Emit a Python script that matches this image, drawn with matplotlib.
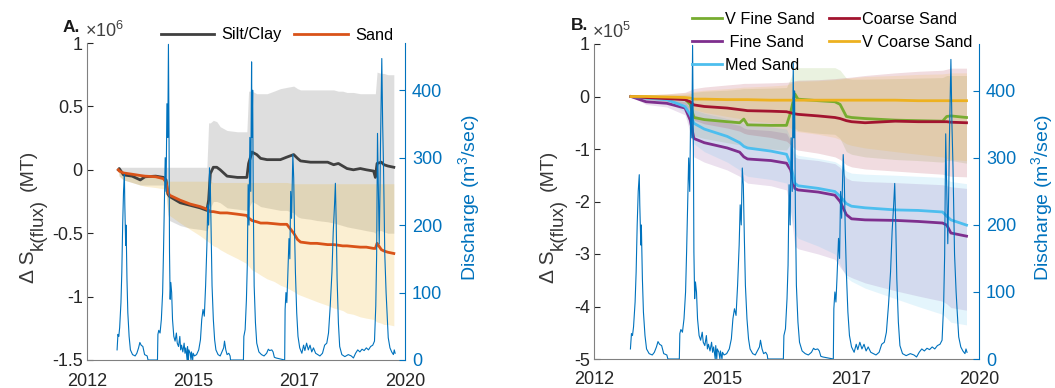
import numpy as np
import matplotlib
matplotlib.use("Agg")
import matplotlib.pyplot as plt
from matplotlib.ticker import FixedLocator, FuncFormatter

plt.rcParams["font.family"] = ["Liberation Sans", "DejaVu Sans"]
plt.rcParams["mathtext.fontset"] = "custom"
plt.rcParams["mathtext.rm"] = "Liberation Sans"
plt.rcParams["mathtext.it"] = "Liberation Sans:italic"
plt.rcParams["axes.unicode_minus"] = False

# ---------------------------------------------------------------- discharge
q_year = [
    2013.30, 2013.32, 2013.34, 2013.36, 2013.39, 2013.41, 2013.43, 2013.45, 2013.47, 2013.48,
    2013.50, 2013.51, 2013.53, 2013.55, 2013.58, 2013.61, 2013.66, 2013.72, 2013.76, 2013.80,
    2013.83, 2013.86, 2013.90, 2013.94, 2014.00, 2014.02, 2014.24, 2014.25, 2014.27, 2014.30,
    2014.33, 2014.36, 2014.38, 2014.40, 2014.42, 2014.44, 2014.46, 2014.48, 2014.495, 2014.51,
    2014.52, 2014.535, 2014.55, 2014.57, 2014.59, 2014.62, 2014.65, 2014.68, 2014.70, 2014.73,
    2014.76, 2014.78, 2014.80, 2014.83, 2014.86, 2014.88, 2014.90, 2014.93, 2014.94, 2014.96,
    2014.97, 2015.00, 2015.02, 2015.03, 2015.06, 2015.07, 2015.10, 2015.15, 2015.20, 2015.24,
    2015.27, 2015.30, 2015.33, 2015.36, 2015.39, 2015.41, 2015.43, 2015.45, 2015.47, 2015.49,
    2015.51, 2015.54, 2015.57, 2015.60, 2015.65, 2015.70, 2015.74, 2015.78, 2015.80, 2015.83,
    2015.86, 2015.90, 2015.93, 2015.94, 2016.24, 2016.25, 2016.28, 2016.31, 2016.33, 2016.35,
    2016.37, 2016.39, 2016.41, 2016.43, 2016.44, 2016.455, 2016.47, 2016.49, 2016.52, 2016.55,
    2016.60, 2016.66, 2016.72, 2016.78, 2016.82, 2016.85, 2016.90, 2016.93, 2016.96, 2017.00,
    2017.19, 2017.20, 2017.21, 2017.23, 2017.25, 2017.27, 2017.30, 2017.32, 2017.34, 2017.36,
    2017.39, 2017.41, 2017.43, 2017.45, 2017.48, 2017.51, 2017.55, 2017.60, 2017.64, 2017.67,
    2017.71, 2017.75, 2017.79, 2017.83, 2017.87, 2017.92, 2017.97, 2018.02, 2018.08, 2018.13,
    2018.18, 2018.22, 2018.26, 2018.30, 2018.33, 2018.36, 2018.38, 2018.40, 2018.42, 2018.45,
    2018.48, 2018.53, 2018.60, 2018.68, 2018.75, 2018.80, 2018.85, 2018.90, 2018.95, 2019.00,
    2019.05, 2019.10, 2019.15, 2019.20, 2019.25, 2019.29, 2019.32, 2019.34, 2019.36, 2019.38,
    2019.40, 2019.42, 2019.43, 2019.45, 2019.46, 2019.48, 2019.50, 2019.53, 2019.56, 2019.58,
    2019.61, 2019.65, 2019.69, 2019.73, 2019.75, 2019.77,
]
q_cms = [
    15, 38, 35, 48, 85, 130, 200, 250, 275, 230,
    170, 200, 120, 70, 35, 15, 8, 6, 10, 18,
    26, 22, 20, 8, 6, 0, 0, 38, 44, 40,
    60, 100, 160, 230, 300, 250, 380, 330, 468, 320,
    160, 90, 115, 100, 60, 35, 28, 40, 25, 20,
    35, 15, 22, 12, 25, 10, 18, 0, 20, 0,
    15, 10, 0, 12, 0, 10, 6, 8, 15, 30,
    60, 75, 65, 110, 170, 230, 200, 285, 260, 180,
    110, 60, 30, 15, 8, 6, 12, 18, 28, 15,
    8, 10, 6, 0, 0, 35, 45, 90, 140, 260,
    200, 330, 250, 442, 330, 400, 230, 110, 55, 25,
    12, 8, 6, 10, 16, 14, 15, 12, 4, 3,
    0, 0, 75, 100, 85, 120, 180, 150, 250, 210,
    305, 270, 190, 130, 70, 35, 18, 10, 22, 14,
    25, 15, 22, 12, 18, 10, 8, 6, 10, 22,
    25, 40, 80, 130, 190, 230, 262, 200, 120, 55,
    20, 8, 5, 8, 6, 3, 10, 15, 12, 16,
    14, 18, 15, 20, 22, 28, 80, 156, 336, 250,
    172, 260, 321, 400, 447, 350, 287, 156, 100, 72,
    33, 18, 12, 8, 15, 10,
]

# ---------------------------------------------------------------- panel A (x1e6 MT)
a_year = [
    2013.33, 2013.35, 2013.45, 2013.65, 2013.84, 2013.95, 2014.20, 2014.38, 2014.44, 2014.48,
    2014.52, 2014.77, 2015.00, 2015.23, 2015.39, 2015.43, 2015.47, 2015.54, 2015.62, 2015.70,
    2015.86, 2016.10, 2016.32, 2016.36, 2016.44, 2016.55, 2016.64, 2016.79, 2016.95, 2017.10,
    2017.25, 2017.41, 2017.50, 2017.57, 2017.80, 2017.95, 2018.20, 2018.34, 2018.45, 2018.55,
    2018.65, 2018.80, 2018.96, 2019.10, 2019.27, 2019.31, 2019.35, 2019.45, 2019.51, 2019.60,
    2019.74,
]
silt_clay = [
    0.00, 0.01, -0.04, -0.05, -0.08, -0.055, -0.05, -0.06, -0.08, -0.19,
    -0.21, -0.26, -0.28, -0.30, -0.32, -0.24, -0.03, 0.02, 0.02, 0.00,
    -0.05, -0.06, -0.06, 0.05, 0.14, 0.12, 0.09, 0.08, 0.08, 0.08,
    0.10, 0.12, 0.09, 0.07, 0.06, 0.06, 0.06, 0.04, 0.05, 0.03,
    0.01, 0.00, 0.01, 0.00, -0.01, -0.06, 0.05, 0.06, 0.04, 0.03,
    0.02,
]
silt_hi = [
    0.00, 0.02, 0.02, 0.02, 0.02, 0.02, 0.02, 0.02, 0.02, 0.02,
    0.02, 0.02, 0.02, 0.02, 0.02, 0.37, 0.37, 0.39, 0.38, 0.34,
    0.31, 0.30, 0.30, 0.62, 0.62, 0.60, 0.60, 0.60, 0.62, 0.64,
    0.65, 0.66, 0.64, 0.63, 0.63, 0.63, 0.63, 0.63, 0.62, 0.62,
    0.61, 0.61, 0.60, 0.60, 0.60, 0.60, 0.77, 0.76, 0.76, 0.75,
    0.75,
]
silt_lo = [
    0.00, -0.05, -0.08, -0.10, -0.12, -0.12, -0.12, -0.12, -0.15, -0.35,
    -0.40, -0.44, -0.46, -0.47, -0.48, -0.45, -0.30, -0.25, -0.25, -0.26,
    -0.30, -0.31, -0.32, -0.30, -0.25, -0.27, -0.29, -0.30, -0.31, -0.32,
    -0.32, -0.34, -0.37, -0.38, -0.39, -0.40, -0.41, -0.42, -0.43, -0.44,
    -0.45, -0.46, -0.47, -0.48, -0.49, -0.50, -0.48, -0.48, -0.49, -0.50,
    -0.50,
]
sand = [
    0.00, -0.01, -0.025, -0.035, -0.045, -0.05, -0.055, -0.07, -0.10, -0.17,
    -0.20, -0.24, -0.27, -0.29, -0.31, -0.32, -0.33, -0.33, -0.335, -0.34,
    -0.34, -0.35, -0.36, -0.38, -0.40, -0.41, -0.42, -0.42, -0.425, -0.43,
    -0.43, -0.50, -0.55, -0.57, -0.58, -0.58, -0.59, -0.59, -0.595, -0.60,
    -0.60, -0.605, -0.61, -0.61, -0.62, -0.62, -0.58, -0.63, -0.64, -0.65,
    -0.66,
]
sand_hi = [
    0.00, 0.01, -0.02, -0.03, -0.04, -0.05, -0.06, -0.07, -0.08, -0.09,
    -0.09, -0.09, -0.09, -0.09, -0.09, -0.09, -0.09, -0.10, -0.10, -0.10,
    -0.10, -0.10, -0.10, -0.10, -0.10, -0.10, -0.10, -0.10, -0.10, -0.10,
    -0.10, -0.11, -0.11, -0.11, -0.11, -0.11, -0.11, -0.11, -0.11, -0.11,
    -0.11, -0.11, -0.11, -0.11, -0.11, -0.11, -0.11, -0.11, -0.11, -0.11,
    -0.11,
]
sand_lo = [
    0.00, -0.05, -0.08, -0.10, -0.12, -0.13, -0.14, -0.15, -0.20, -0.32,
    -0.36, -0.42, -0.47, -0.52, -0.56, -0.57, -0.58, -0.60, -0.61, -0.63,
    -0.66, -0.70, -0.74, -0.76, -0.79, -0.81, -0.83, -0.86, -0.88, -0.91,
    -0.93, -0.96, -0.98, -0.99, -1.02, -1.04, -1.07, -1.09, -1.10, -1.11,
    -1.13, -1.14, -1.16, -1.17, -1.18, -1.19, -1.20, -1.21, -1.22, -1.22,
    -1.23,
]

# ---------------------------------------------------------------- panel B (x1e5 MT)
b_year = [
    2013.31, 2013.60, 2014.00, 2014.35, 2014.45, 2014.52, 2014.72, 2015.16, 2015.40, 2015.48,
    2015.55, 2016.00, 2016.30, 2016.38, 2016.46, 2016.52, 2016.91, 2017.23, 2017.33, 2017.45,
    2017.55, 2017.81, 2018.39, 2018.83, 2019.30, 2019.38, 2019.46, 2019.76,
]
v_fine = [
    0.00, -0.01, -0.02, -0.05, -0.15, -0.40, -0.44, -0.48, -0.50, -0.43,
    -0.54, -0.55, -0.55, -0.30, 0.05, -0.05, -0.08, -0.10, -0.15, -0.38,
    -0.40, -0.42, -0.45, -0.46, -0.47, -0.38, -0.37, -0.40,
]
fine = [
    0.00, -0.10, -0.13, -0.22, -0.45, -0.80, -0.88, -0.98, -1.06, -1.15,
    -1.19, -1.22, -1.27, -1.40, -1.75, -1.78, -1.82, -1.88, -2.00, -2.25,
    -2.33, -2.35, -2.36, -2.38, -2.41, -2.45, -2.60, -2.66,
]
med = [
    0.00, -0.03, -0.06, -0.19, -0.35, -0.51, -0.62, -0.76, -0.88, -0.95,
    -0.98, -1.04, -1.10, -1.30, -1.65, -1.70, -1.75, -1.81, -1.90, -2.04,
    -2.09, -2.12, -2.16, -2.17, -2.20, -2.28, -2.35, -2.45,
]
coarse = [
    0.00, -0.02, -0.04, -0.06, -0.10, -0.16, -0.19, -0.22, -0.25, -0.26,
    -0.27, -0.28, -0.29, -0.31, -0.33, -0.34, -0.37, -0.40, -0.42, -0.46,
    -0.48, -0.50, -0.47, -0.48, -0.48, -0.48, -0.49, -0.50,
]
v_coarse = [
    0.00, 0.00, -0.01, -0.02, -0.03, -0.05, -0.05, -0.06, -0.06, -0.06,
    -0.06, -0.07, -0.07, -0.07, -0.07, -0.07, -0.07, -0.07, -0.07, -0.07,
    -0.07, -0.07, -0.07, -0.08, -0.08, -0.08, -0.08, -0.08,
]
v_fine_hi = [
    0.00, 0.02, 0.03, 0.04, 0.05, 0.08, 0.10, 0.12, 0.14, 0.15,
    0.15, 0.16, 0.17, 0.35, 0.55, 0.55, 0.55, 0.55, 0.50, 0.35,
    0.33, 0.33, 0.34, 0.35, 0.36, 0.40, 0.40, 0.40,
]
v_fine_lo = [
    0.00, -0.05, -0.08, -0.15, -0.40, -0.75, -0.80, -0.88, -0.92, -0.92,
    -0.98, -1.00, -1.02, -0.90, -0.60, -0.65, -0.70, -0.72, -0.80, -1.05,
    -1.10, -1.15, -1.20, -1.22, -1.25, -1.22, -1.22, -1.27,
]
fine_hi = [
    0.00, -0.04, -0.06, -0.10, -0.22, -0.35, -0.42, -0.50, -0.55, -0.60,
    -0.62, -0.65, -0.70, -0.85, -1.15, -1.18, -1.22, -1.28, -1.35, -1.55,
    -1.60, -1.62, -1.64, -1.66, -1.68, -1.70, -1.72, -1.75,
]
fine_lo = [
    0.00, -0.15, -0.20, -0.35, -0.70, -1.15, -1.25, -1.40, -1.52, -1.60,
    -1.65, -1.70, -1.78, -2.20, -2.85, -2.90, -3.00, -3.10, -3.25, -3.40,
    -3.45, -3.55, -3.70, -3.80, -3.90, -3.95, -4.02, -4.07,
]
med_hi = [
    0.00, -0.01, -0.02, -0.08, -0.15, -0.25, -0.32, -0.42, -0.48, -0.52,
    -0.55, -0.58, -0.62, -0.80, -1.08, -1.12, -1.18, -1.24, -1.30, -1.42,
    -1.46, -1.48, -1.50, -1.52, -1.54, -1.58, -1.62, -1.66,
]
med_lo = [
    0.00, -0.06, -0.10, -0.30, -0.60, -0.90, -1.05, -1.25, -1.40, -1.48,
    -1.52, -1.58, -1.65, -2.20, -2.60, -2.70, -2.85, -3.00, -3.20, -3.45,
    -3.52, -3.65, -3.85, -4.00, -4.15, -4.22, -4.30, -4.35,
]
coarse_hi = [
    0.00, 0.03, 0.05, 0.08, 0.12, 0.15, 0.18, 0.22, 0.24, 0.25,
    0.25, 0.26, 0.27, 0.28, 0.30, 0.31, 0.32, 0.34, 0.35, 0.36,
    0.37, 0.40, 0.45, 0.48, 0.50, 0.52, 0.54, 0.54,
]
coarse_lo = [
    0.00, -0.06, -0.10, -0.15, -0.30, -0.45, -0.52, -0.60, -0.66, -0.70,
    -0.72, -0.78, -0.85, -0.92, -1.00, -1.02, -1.08, -1.15, -1.20, -1.30,
    -1.34, -1.38, -1.42, -1.45, -1.48, -1.50, -1.52, -1.53,
]
v_coarse_hi = [
    0.00, 0.03, 0.05, 0.07, 0.08, 0.10, 0.12, 0.15, 0.17, 0.18,
    0.18, 0.20, 0.22, 0.25, 0.28, 0.29, 0.30, 0.32, 0.33, 0.35,
    0.36, 0.38, 0.40, 0.42, 0.43, 0.44, 0.45, 0.45,
]
v_coarse_lo = [
    0.00, -0.03, -0.05, -0.08, -0.15, -0.25, -0.30, -0.38, -0.42, -0.45,
    -0.46, -0.50, -0.55, -0.60, -0.65, -0.67, -0.72, -0.78, -0.82, -0.90,
    -0.93, -0.98, -1.05, -1.10, -1.15, -1.18, -1.20, -1.22,
]

x_ticklabels = ["2012", "2015", "2017", "2020"]
x_range = (2012.6, 2020.0)

# MATLAB default line colours
BLUE = "#0072BD"
ORANGE = "#D95319"
YELLOW = "#EDB120"
PURPLE = "#7E2F8E"
GREEN = "#77AC30"
CYAN = "#4DBEEE"
RED = "#A2142F"
DARK = "#404040"
TXT = "#262626"
LABEL = "#383838"

W, H = 1055, 388
TICK_FS = 13


def px(x, y):
    """Figure pixel position (from the top-left) -> figure fraction."""
    return x / W, 1 - y / H


def plain(v, _pos):
    return f"{v:g}"


def style_axes(ax, yticks, ylim):
    ax.set_xlim(*x_range)
    ax.set_ylim(*ylim)
    ax.xaxis.set_major_locator(FixedLocator(np.linspace(x_range[0], x_range[1], 4)))
    ax.set_xticklabels(x_ticklabels)
    ax.yaxis.set_major_locator(FixedLocator(yticks))
    ax.yaxis.set_major_formatter(FuncFormatter(plain))
    ax.tick_params(direction="in", length=4, width=0.8, labelsize=TICK_FS,
                   colors=TXT, pad=3)
    ax.tick_params(axis="x", length=0, pad=9)
    for side in ("left", "bottom"):
        ax.spines[side].set_color("#808080")
        ax.spines[side].set_linewidth(0.8)
    ax.spines["top"].set_visible(False)
    ax.spines["right"].set_visible(False)


def flux_label(x_main, x_sub, y_bottom):
    # rotated "Δ S_k(flux) (MT)", stacked piece by piece from the bottom up
    renderer = fig.canvas.get_renderer()
    kw = dict(rotation=90, ha="center", va="bottom", color=LABEL)
    t1 = fig.text(*px(x_main, y_bottom), "\u0394 S", fontsize=15, **kw)
    top = t1.get_window_extent(renderer).y1
    t2 = fig.text(x_sub / W, top / H, "k(flux)", fontsize=13.5, **kw)
    top = t2.get_window_extent(renderer).y1
    fig.text(x_main / W, (top + 8) / H, "(MT)", fontsize=14, **kw)


def discharge_axis(ax, label_x):
    ax2 = ax.twinx()
    ax2.plot(q_year, q_cms, color=BLUE, lw=0.8, zorder=3)
    ax2.set_ylim(0, 470)
    ax2.yaxis.set_major_locator(FixedLocator([0, 100, 200, 300, 400]))
    ax2.tick_params(direction="in", length=4, width=0.8, labelsize=TICK_FS,
                    colors=BLUE, pad=5)
    ax2.spines["right"].set_color(BLUE)
    ax2.spines["right"].set_linewidth(0.8)
    for side in ("top", "left", "bottom"):
        ax2.spines[side].set_visible(False)
    fig.text(*px(label_x, 197), r"Discharge (m$^{\mathregular{3}}$/sec)", fontsize=14,
             color=BLUE, rotation=90, ha="center", va="center")
    return ax2


fig = plt.figure(figsize=(W / 100, H / 100), dpi=100)

# ---------------------------------------------------------------- panel A
axA = fig.add_axes([87 / W, 1 - 360 / H, 318 / W, 317 / H])
axA.fill_between(a_year, silt_lo, silt_hi, color="#7f7f7f", alpha=0.25, lw=0)
axA.fill_between(a_year, sand_lo, sand_hi, color=YELLOW, alpha=0.2, lw=0)
hA1, = axA.plot(a_year, silt_clay, color=DARK, lw=2, label="Silt/Clay")
hA2, = axA.plot(a_year, sand, color=ORANGE, lw=2, label="Sand")
style_axes(axA, [-1.5, -1, -0.5, 0, 0.5, 1], (-1.5, 1))
discharge_axis(axA, 469)
flux_label(28, 38, 283)
axA.text(-0.005, 1.005, r"$\times\mathregular{10^{6}}$", transform=axA.transAxes,
         fontsize=TICK_FS, color="#404040", ha="left", va="bottom")
fig.text(*px(63, 27), "A.", fontsize=12.5, fontweight="bold", color="#1a1a1a", va="center")
fig.legend(handles=[hA1, hA2], loc="center", bbox_to_anchor=px(277, 35),
           ncol=2, frameon=False, fontsize=11.8, handlelength=3.25,
           columnspacing=0.75, handletextpad=0.45)

# ---------------------------------------------------------------- panel B
axB = fig.add_axes([594 / W, 1 - 359 / H, 385 / W, 315 / H])
band_specs = [
    (v_fine_lo, v_fine_hi, GREEN),
    (fine_lo, fine_hi, PURPLE),
    (med_lo, med_hi, CYAN),
    (coarse_lo, coarse_hi, RED),
    (v_coarse_lo, v_coarse_hi, YELLOW),
]
for lo, hi, col in band_specs:
    axB.fill_between(b_year, lo, hi, color=col, alpha=0.15, lw=0)
handles = []
for vals, col, name in [(v_fine, GREEN, "V Fine Sand"), (fine, PURPLE, " Fine Sand"),
                        (med, CYAN, "Med Sand"), (coarse, RED, "Coarse Sand"),
                        (v_coarse, YELLOW, "V Coarse Sand")]:
    h, = axB.plot(b_year, vals, color=col, lw=2, label=name)
    handles.append(h)
style_axes(axB, [-5, -4, -3, -2, -1, 0, 1], (-5, 1))
discharge_axis(axB, 1042)
flux_label(548, 558, 283)
axB.text(-0.005, 1.005, r"$\times\mathregular{10^{5}}$", transform=axB.transAxes,
         fontsize=TICK_FS, color="#404040", ha="left", va="bottom")
fig.text(*px(571, 25), "B.", fontsize=12.5, fontweight="bold", color="#1a1a1a", va="center")
fig.legend(handles=handles, loc="upper left", bbox_to_anchor=px(677, -3),
           ncol=2, frameon=False, fontsize=11.7, handlelength=1.85,
           columnspacing=0.85, handletextpad=0.2, labelspacing=0.5)

fig.savefig("out.png", dpi=100)
